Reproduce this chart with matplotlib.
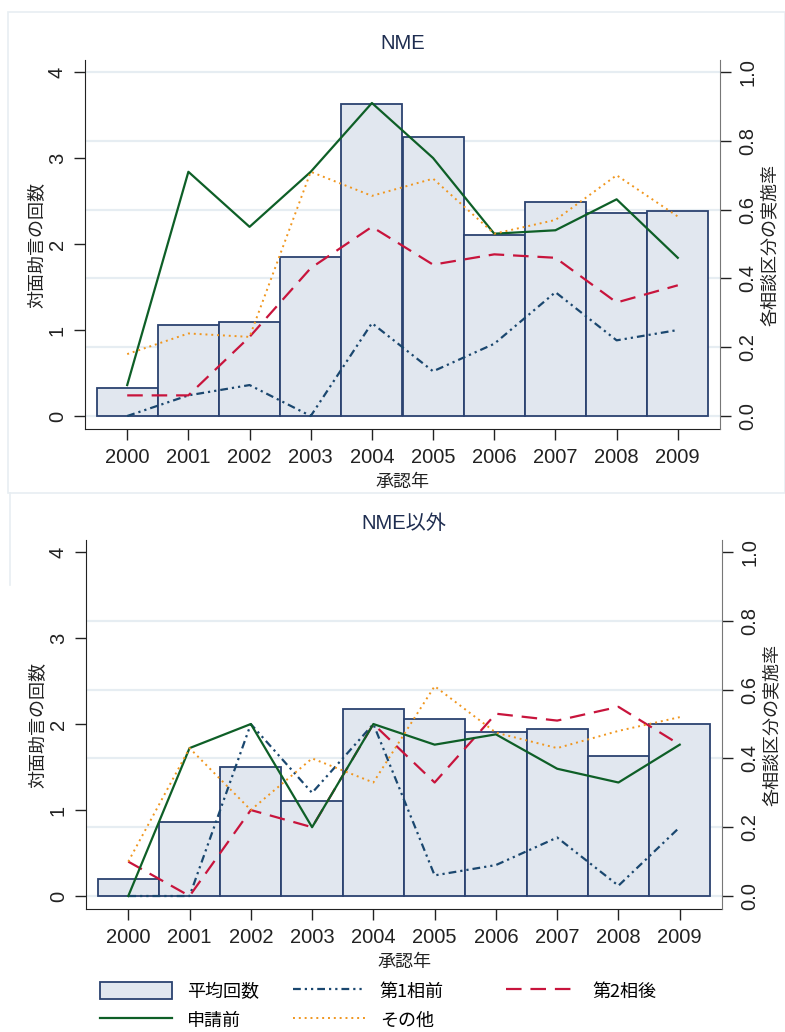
import matplotlib
matplotlib.use('Agg')
import matplotlib.pyplot as plt
from matplotlib.patches import Rectangle, Patch
from matplotlib.lines import Line2D
import numpy as np

plt.rcParams['font.family'] = ['Liberation Sans', 'Noto Sans CJK JP', 'DejaVu Sans']

years = [2000, 2001, 2002, 2003, 2004, 2005, 2006, 2007, 2008, 2009]

# NME
nme_mean = [0.32, 1.06, 1.09, 1.85, 3.63, 3.24, 2.10, 2.49, 2.36, 2.38]
nme_phase1 = [0.0, 0.06, 0.09, 0.0, 0.27, 0.13, 0.21, 0.36, 0.22, 0.25]
nme_phase2 = [0.06, 0.06, 0.23, 0.43, 0.55, 0.44, 0.47, 0.46, 0.33, 0.38]
nme_pre = [0.09, 0.71, 0.55, 0.71, 0.91, 0.75, 0.53, 0.54, 0.63, 0.46]
nme_other = [0.18, 0.24, 0.23, 0.71, 0.64, 0.69, 0.53, 0.57, 0.70, 0.58]

# NME以外
non_mean = [0.20, 0.86, 1.50, 1.10, 2.17, 2.06, 1.91, 1.94, 1.63, 2.00]
non_phase1 = [0.0, 0.0, 0.50, 0.30, 0.50, 0.06, 0.09, 0.17, 0.03, 0.20]
non_phase2 = [0.10, 0.0, 0.25, 0.20, 0.50, 0.33, 0.53, 0.51, 0.55, 0.44]
non_pre = [0.0, 0.43, 0.50, 0.20, 0.50, 0.44, 0.47, 0.37, 0.33, 0.44]
non_other = [0.10, 0.43, 0.25, 0.40, 0.33, 0.61, 0.475, 0.43, 0.48, 0.52]

left_ticks = [0, 1, 2, 3, 4]
right_ticks = [0.0, 0.2, 0.4, 0.6, 0.8, 1.0]

BAR_FILL = '#e1e7ef'
BAR_EDGE = '#2b4270'
C_PH1 = '#1a476f'
C_PH2 = '#c8143c'
C_PRE = '#0e5f27'
C_OTH = '#f0961e'
GRID = '#e6edf2'
JP = ['Noto Sans CJK JP', 'DejaVu Sans']

ls_ph1 = (0, (3.5, 1.8, 1, 1.8, 1, 1.8))
ls_ph2 = (0, (7, 4))
ls_oth = (0, (1, 2))

fig = plt.figure(figsize=(7.85, 10.32), dpi=100)

def px(l, t, r, b):
    W, H = 785.0, 1032.0
    return [l / W, 1 - b / H, (r - l) / W, (b - t) / H]

def panel(rect, title, mean, ph1, ph2, pre, oth, grid_top):
    ax = fig.add_axes(rect)
    ax.set_zorder(1)
    ax.patch.set_visible(False)
    ax2 = ax.twinx()
    ax2.set_zorder(2)

    ax.bar(years, mean, width=1.0, color=BAR_FILL, edgecolor=BAR_EDGE,
           linewidth=1.3, zorder=2)
    ax2.plot(years, ph1, color=C_PH1, lw=1.6, linestyle=ls_ph1)
    ax2.plot(years, ph2, color=C_PH2, lw=1.6, linestyle=ls_ph2)
    ax2.plot(years, pre, color=C_PRE, lw=1.6)
    ax2.plot(years, oth, color=C_OTH, lw=1.4, linestyle=ls_oth)

    ax.set_xlim(1999.31, 2009.69)
    ax.set_ylim(-0.151, 4.14)
    ax2.set_ylim(-0.151 / 4, 4.14 / 4)

    # grid lines follow the right-hand scale
    gl = [0.2, 0.4, 0.6, 0.8] + ([1.0] if grid_top else [])
    for g in gl:
        ax.axhline(g * 4, color=GRID, lw=1.6, zorder=0)
    ax.axhline(0, color=GRID, lw=1.6, zorder=0)

    ax.set_xticks(years)
    ax.set_xticklabels([str(y) for y in years])
    ax.set_yticks(left_ticks)
    ax2.set_yticks(right_ticks)
    ax2.set_yticklabels(['%.1f' % v for v in right_ticks])

    ax.tick_params(axis='both', direction='out', length=8, width=1,
                   labelsize=14.5, colors='#222222', pad=6)
    ax.tick_params(axis='y', labelrotation=90, pad=5)
    for lab in ax.get_yticklabels():
        lab.set_va('center')
    ax2.tick_params(axis='y', direction='out', length=8, width=1,
                    labelsize=14.5, colors='#222222', labelrotation=90, pad=5)
    for lab in ax2.get_yticklabels():
        lab.set_va('center')

    for s in ['top', 'right']:
        ax.spines[s].set_visible(False)
    for s in ['top', 'left', 'bottom']:
        ax2.spines[s].set_visible(False)
    ax.spines['left'].set_color('#222222')
    ax.spines['bottom'].set_color('#222222')
    ax2.spines['right'].set_color('#777777')

    ax.set_title(title, fontsize=14.5, color='#1e2d50', pad=8, family=['Liberation Sans'] + JP)
    ax.set_xlabel('承認年', fontsize=13, family=JP, color='#222222', labelpad=4)
    ax.set_ylabel('対面助言の回数', fontsize=13, family=JP, color='#222222', labelpad=2)
    ax2.set_ylabel('各相談区分の実施率', fontsize=13, family=JP, color='#222222', labelpad=3)
    return ax, ax2

panel(px(85, 60, 720, 429), 'NME', nme_mean, nme_phase1, nme_phase2,
      nme_pre, nme_other, True)
panel(px(86, 540, 722, 909), 'NME以外', non_mean, non_phase1, non_phase2,
      non_pre, non_other, False)

# faint outline of the upper graph region
fig.patches.append(Rectangle((8 / 785, 1 - 493 / 1032), 777 / 785, 481 / 1032,
                             transform=fig.transFigure, fill=False,
                             edgecolor='#e8eef2', lw=1.2))
fig.add_artist(Line2D([10 / 785, 10 / 785], [1 - 585 / 1032, 1 - 493 / 1032],
                      transform=fig.transFigure, color='#e8eef2', lw=1.2))

# legend, three columns laid out by hand
h_mean = Patch(facecolor=BAR_FILL, edgecolor=BAR_EDGE, linewidth=1.3)
h_ph1 = Line2D([], [], color=C_PH1, lw=1.6, linestyle=ls_ph1)
h_ph2 = Line2D([], [], color=C_PH2, lw=1.6, linestyle=ls_ph2)
h_pre = Line2D([], [], color=C_PRE, lw=1.6)
h_oth = Line2D([], [], color=C_OTH, lw=1.4, linestyle=ls_oth)

cols = [
    (100, [h_mean, h_pre], ['平均回数', '申請前']),
    (293, [h_ph1, h_oth], ['第1相前', 'その他']),
    (506, [h_ph2], ['第2相後']),
]
for x0, hs, ls in cols:
    fig.legend(hs, ls, loc='upper left', bbox_to_anchor=(x0 / 785, 1 - 982 / 1032),
               frameon=False, prop={'family': JP, 'size': 13},
               handlelength=4.0, handleheight=1.1, handletextpad=0.8,
               labelspacing=0.55, borderpad=0, borderaxespad=0)

fig.savefig('out.png', dpi=100, facecolor='white')
